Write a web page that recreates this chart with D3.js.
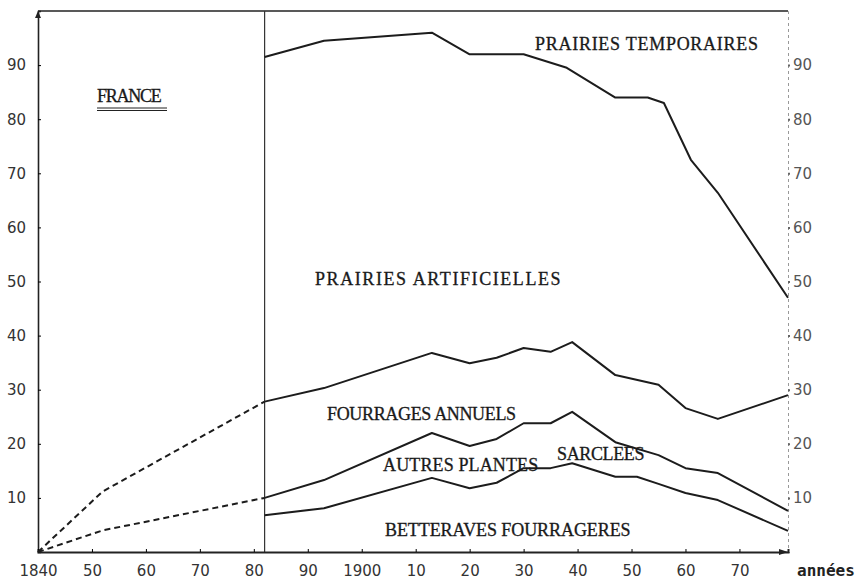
<!DOCTYPE html>
<html>
<head>
<meta charset="utf-8">
<script src="https://cdn.jsdelivr.net/npm/d3@7"></script>
<style>
  body { margin: 0; background: #fff; }
  .axis text { font-family: "DejaVu Sans", sans-serif; font-size: 15px; fill: #333; }
  .axis--right text { fill: #555; }
  .lbl { font-family: "Liberation Serif", serif; font-size: 18px; fill: #1a1a1a; stroke: #1a1a1a; stroke-width: 0.3px; }
  .serie { fill: none; stroke: #1c1c1c; stroke-width: 2px; stroke-linejoin: round; }
  .serie--early { stroke-dasharray: 6,4; }
</style>
</head>
<body>
<svg width="867" height="585"></svg>
<script>
// early (dashed) estimates
var yearsEarly = [1840, 1852, 1882];
var artificiellesEarly = [0, 11.2, 27.8];
var annuelsEarly = [0, 4, 10];

// after 1882
var yearsTemp = [1882, 1893, 1913, 1920, 1930, 1938, 1947, 1953, 1956, 1961, 1966, 1979];
var temporaires = [91.5, 94.5, 96, 92, 92, 89.5, 84, 84, 83, 72.5, 66.4, 47];

var yearsMain = [1882, 1893, 1913, 1920, 1925, 1930, 1935, 1939, 1947, 1955, 1960, 1966, 1979];
var artificielles = [27.8, 30.3, 36.8, 34.9, 35.9, 37.7, 37, 38.8, 32.7, 30.9, 26.6, 24.6, 29];
var annuels = [10, 13.3, 22, 19.6, 20.9, 23.8, 23.8, 25.9, 20.3, 17.9, 15.5, 14.6, 7.6];

var yearsBett = [1882, 1893, 1913, 1920, 1925, 1930, 1935, 1939, 1947, 1951, 1955, 1960, 1966, 1979];
var sarclees = [6.8, 8.1, 13.7, 11.8, 12.8, 15.5, 15.5, 16.4, 13.9, 13.9, 12.6, 10.9, 9.6, 3.9];

var xTicks = [1840, 1850, 1860, 1870, 1880, 1890, 1900, 1910, 1920, 1930, 1940, 1950, 1960, 1970];
var yTicks = [10, 20, 30, 40, 50, 60, 70, 80, 90];

var svg = d3.select("svg");

var x = d3.scaleLinear().domain([1840, 1979]).range([38, 788]);
var y = d3.scaleLinear().domain([0, 100]).range([552, 11]);

function pts(years, vals) {
  return years.map(function(d, i) { return [d, vals[i]]; });
}

var line = d3.line()
  .x(function(d) { return x(d[0]); })
  .y(function(d) { return y(d[1]); });

// frame: top line and 1882 separator
svg.append("line")
  .attr("x1", x(1840)).attr("x2", x(1979))
  .attr("y1", y(100)).attr("y2", y(100))
  .attr("stroke", "#222").attr("stroke-width", 1.6);

svg.append("line")
  .attr("x1", x(1882)).attr("x2", x(1882))
  .attr("y1", y(100)).attr("y2", y(0))
  .attr("stroke", "#333").attr("stroke-width", 1.2);

// axes
svg.append("g")
  .attr("class", "axis axis--left")
  .attr("transform", "translate(" + x(1840) + ",0)")
  .call(d3.axisLeft(y).tickValues(yTicks).tickSize(-3).tickPadding(12))
  .call(function(g) { g.select(".domain").attr("stroke", "#222").attr("stroke-width", 1.6); });

svg.append("g")
  .attr("class", "axis axis--right")
  .attr("transform", "translate(" + x(1979) + ",0)")
  .call(d3.axisRight(y).tickValues(yTicks).tickSize(2).tickPadding(3))
  .call(function(g) {
    g.select(".domain").attr("stroke", "#999").attr("stroke-dasharray", "3,3");
    g.selectAll(".tick line").attr("stroke", "#666").attr("stroke-width", 2);
  });

svg.append("g")
  .attr("class", "axis axis--bottom")
  .attr("transform", "translate(0," + y(0) + ")")
  .call(d3.axisBottom(x).tickValues(xTicks).tickSize(-3).tickPadding(13)
    .tickFormat(function(d) { return (d === 1840 || d === 1900) ? d : d3.format("02d")(d % 100); }))
  .call(function(g) { g.select(".domain").attr("stroke", "#222").attr("stroke-width", 2); });

// arrow heads
svg.append("path")
  .attr("d", d3.line()([[x(1979) - 9, y(0) - 3], [x(1979), y(0)], [x(1979) - 9, y(0) + 3]]))
  .attr("fill", "#222");
svg.append("path")
  .attr("d", d3.line()([[x(1840) - 3, y(100) + 7], [x(1840), y(100)], [x(1840) + 3, y(100) + 7]]))
  .attr("fill", "#222");

// series
var series = [
  { cls: "serie serie--early", d: pts(yearsEarly, artificiellesEarly) },
  { cls: "serie serie--early", d: pts(yearsEarly, annuelsEarly) },
  { cls: "serie", d: pts(yearsTemp, temporaires) },
  { cls: "serie", d: pts(yearsMain, artificielles) },
  { cls: "serie", d: pts(yearsMain, annuels) },
  { cls: "serie", d: pts(yearsBett, sarclees) }
];

svg.selectAll(".serie")
  .data(series)
  .enter().append("path")
  .attr("class", function(d) { return d.cls; })
  .attr("d", function(d) { return line(d.d); });

// labels, typewriter spacing ~11.3px per character
var labels = svg.append("g");
function label(t, px, py) {
  return labels.append("text").attr("class", "lbl")
    .attr("x", px).attr("y", py)
    .attr("textLength", t.length * 11.3 - 3)
    .attr("lengthAdjust", "spacing")
    .text(t);
}
label("PRAIRIES TEMPORAIRES", 535, 50);
label("FRANCE", 97, 102);
label("PRAIRIES ARTIFICIELLES", 315, 285);
label("FOURRAGES ANNUELS", 327, 420);
label("AUTRES PLANTES", 383, 471);
label("SARCLEES", 557, 460);
label("BETTERAVES FOURRAGERES", 385, 536);

labels.append("line")
  .attr("x1", 97).attr("x2", 167).attr("y1", 108).attr("y2", 108)
  .attr("stroke", "#222").attr("stroke-width", 1.2);
labels.append("line")
  .attr("x1", 97).attr("x2", 167).attr("y1", 110.5).attr("y2", 110.5)
  .attr("stroke", "#222").attr("stroke-width", 1.2);

svg.append("text")
  .attr("x", 797).attr("y", 576)
  .style("font-family", "DejaVu Sans Mono, monospace")
  .style("font-size", "16px").style("font-weight", "bold")
  .attr("fill", "#222")
  .text("années");
</script>
</body>
</html>
